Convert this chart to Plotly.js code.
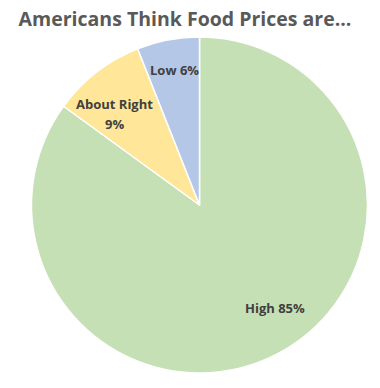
<!DOCTYPE html>
<html>
<head>
<meta charset="utf-8">
<script src="https://cdn.plot.ly/plotly-3.0.1.min.js"></script>
<style>html,body{margin:0;padding:0;background:#fff;}#chart{width:380px;height:388px;}</style>
</head>
<body>
<div id="chart"></div>
<script>
const categories = ["High", "About Right", "Low"];
const values = [85, 9, 6];
const labelTexts = ["High 85%", "About Right<br>9%", "Low 6%"];
const colors = ["#C5E0B4", "#FFE699", "#B4C7E7"];
const chartTitle = "Americans Think Food Prices are...";

// label anchor positions in pixels (layout only)
const labelPos = [[275, 308], [114, 114], [174, 70]];
const lineGap = 20;

const W = 380, H = 388;
const M = {l: 31, r: 12, t: 37, b: 15};
const toPaperX = px => (px - M.l) / (W - M.l - M.r);
const toPaperY = py => 1 - (py - M.t) / (H - M.t - M.b);

const trace = {
  type: "pie",
  labels: categories,
  values: values,
  textinfo: "none",
  sort: false,
  direction: "clockwise",
  rotation: 0,
  marker: {colors: colors, line: {color: "#ffffff", width: 1.5}},
  hoverinfo: "none"
};

const annotations = [];
labelTexts.forEach((t, i) => {
  const lines = t.split("<br>");
  lines.forEach((ln, j) => {
    const py = labelPos[i][1] + (j - (lines.length - 1) / 2) * lineGap;
    annotations.push({
      text: "<b>" + ln + "</b>",
      xref: "paper", yref: "paper",
      x: toPaperX(labelPos[i][0]), y: toPaperY(py),
      xanchor: "center", yanchor: "middle",
      showarrow: false,
      font: {family: "Open Sans, sans-serif", size: 13, color: "#404040"}
    });
  });
});

const layout = {
  width: W,
  height: H,
  margin: M,
  paper_bgcolor: "#ffffff",
  showlegend: false,
  annotations: annotations,
  title: {
    text: "<b>" + chartTitle + "</b>",
    font: {family: "Open Sans, sans-serif", size: 19.5, color: "#595959"},
    xref: "container", x: 185 / W, xanchor: "center",
    yref: "container", y: 1 - 19 / H, yanchor: "middle"
  }
};

Plotly.newPlot("chart", [trace], layout, {displayModeBar: false, staticPlot: true});
</script>
</body>
</html>
